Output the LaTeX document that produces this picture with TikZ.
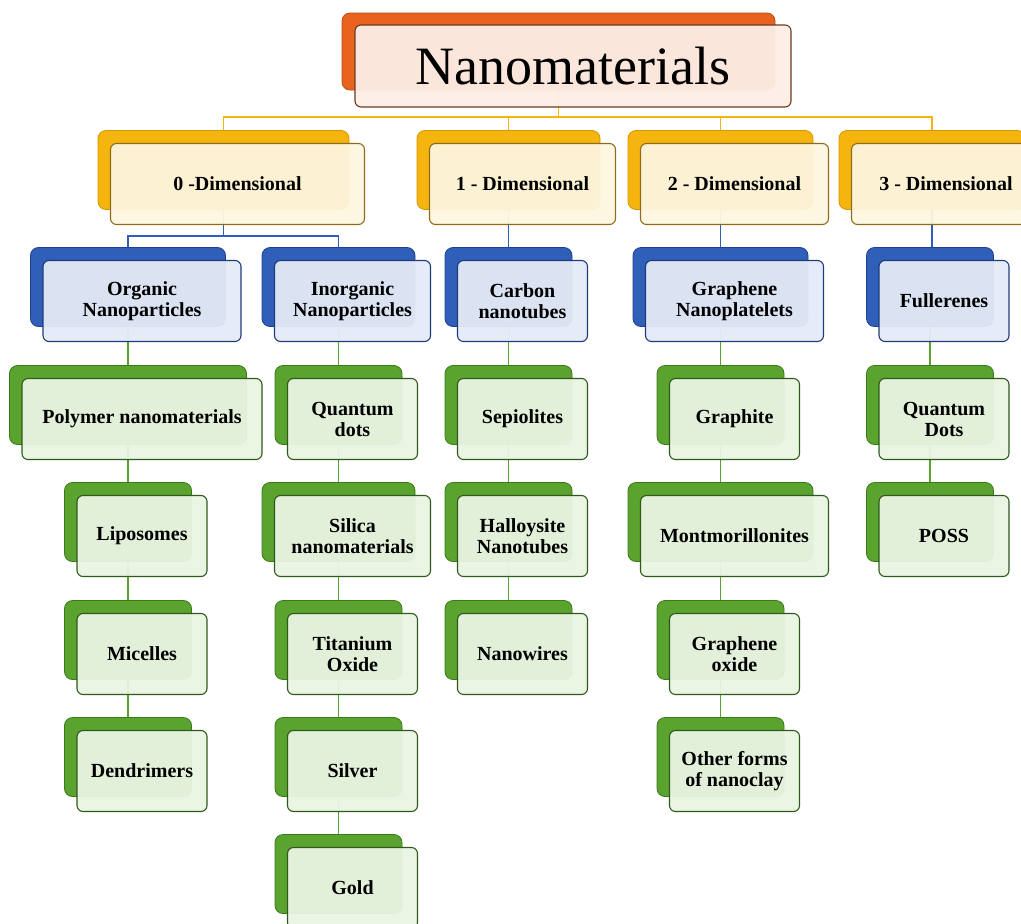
\documentclass[tikz,border=0pt]{standalone}
\usepackage{fontspec}
\setmainfont{Liberation Serif}
\usetikzlibrary{calc}

\pgfdeclarelayer{bg}
\pgfsetlayers{bg,main}

% colours of the four levels
\definecolor{orangeA}{HTML}{E8641E}
\definecolor{orangeB}{HTML}{B8500F}
\definecolor{orangeF}{HTML}{FDEEE6}
\definecolor{orangeE}{HTML}{6E3A1E}
\definecolor{goldA}{HTML}{F6B40E}
\definecolor{goldB}{HTML}{D29600}
\definecolor{goldF}{HTML}{FDF6DE}
\definecolor{goldE}{HTML}{8E6C1C}
\definecolor{blueA}{HTML}{2F5FB8}
\definecolor{blueB}{HTML}{1E418A}
\definecolor{blueF}{HTML}{E5EBF7}
\definecolor{blueE}{HTML}{1F3B78}
\definecolor{greenA}{HTML}{5BA32F}
\definecolor{greenB}{HTML}{3B7A1C}
\definecolor{greenF}{HTML}{EAF4E3}
\definecolor{greenE}{HTML}{2E5A1C}

\newcommand{\lab}{\fontsize{20}{21}\selectfont\bfseries}

\tikzset{
  backbox/.style={rounded corners=8pt, minimum height=79pt, inner sep=0pt, line width=0.8pt},
  frontbox/.style={rounded corners=6pt, minimum height=81pt, inner sep=0pt, line width=1.1pt,
    fill opacity=0.95, text opacity=1, align=center, font=\lab},
  orangeback/.style={backbox, fill=orangeA, draw=orangeB},
  orangefront/.style={frontbox, fill=orangeF, draw=orangeE},
  goldback/.style={backbox, fill=goldA, draw=goldB},
  goldfront/.style={frontbox, fill=goldF, draw=goldE},
  blueback/.style={backbox, fill=blueA, draw=blueB},
  bluefront/.style={frontbox, fill=blueF, draw=blueE},
  greenback/.style={backbox, fill=greenA, draw=greenB},
  greenfront/.style={frontbox, fill=greenF, draw=greenE},
  goldline/.style={draw=goldA, line width=1.4pt},
  blueline/.style={draw=blueA, line width=1.4pt},
  greenline/.style={draw=greenA, line width=1.4pt}
}

% back shape and front shape of one entry
\newcommand{\twobox}[6]{%
  \node[#5back, minimum width=#4pt] (#1-b) at (#2,#3) {};
  \node[#5front, minimum width=#4pt+3pt] (#1) at (#2+14,#3+14) {#6};
}

\begin{document}
\begin{tikzpicture}[x=1pt,y=1pt,yscale=-1]
  \useasboundingbox (0,0) rectangle (1021,924);

  %Title
  \node[orangeback, minimum width=433pt, minimum height=77pt] (nano-b) at (558.5,51.5) {};
  \node[orangefront, minimum width=436pt, minimum height=82pt, font=\fontsize{54}{60}\selectfont] (nano) at (573,66) {Nanomaterials};

  %Dimensions
  \twobox{dimz}{223.5}{170}{251}{gold}{0 -Dimensional}
  \twobox{dimo}{508.5}{170}{183}{gold}{1 - Dimensional}
  \twobox{dimt}{720.5}{170}{185}{gold}{2 - Dimensional}
  \twobox{dimth}{932}{170}{186}{gold}{3 - Dimensional}

  %Second level
  \twobox{org}{128}{287}{195}{blue}{Organic\\Nanoparticles}
  \twobox{inorg}{338.5}{287}{153}{blue}{Inorganic\\Nanoparticles}
  \twobox{carb}{508.5}{287}{127}{blue}{Carbon\\nanotubes}
  \twobox{graph}{720.5}{287}{175}{blue}{Graphene\\Nanoplatelets}
  \twobox{full}{930}{287}{127}{blue}{Fullerenes}

  %Organic column
  \twobox{poly}{128}{405}{237}{green}{Polymer nanomaterials}
  \twobox{lipo}{128}{522}{127}{green}{Liposomes}
  \twobox{mice}{128}{640}{127}{green}{Micelles}
  \twobox{dend}{128}{757}{127}{green}{Dendrimers}

  %Inorganic column
  \twobox{qdot}{338.5}{405}{127}{green}{Quantum\\dots}
  \twobox{silica}{338.5}{522}{153}{green}{Silica\\nanomaterials}
  \twobox{titan}{338.5}{640}{127}{green}{Titanium\\Oxide}
  \twobox{silver}{338.5}{757}{127}{green}{Silver}
  \twobox{gold}{338.5}{874}{127}{green}{Gold}

  %Carbon column
  \twobox{sepio}{508.5}{405}{127}{green}{Sepiolites}
  \twobox{hallo}{508.5}{522}{127}{green}{Halloysite\\Nanotubes}
  \twobox{nwire}{508.5}{640}{127}{green}{Nanowires}

  %Graphene column
  \twobox{graphite}{720.5}{405}{127}{green}{Graphite}
  \twobox{montm}{720.5}{522}{185}{green}{Montmorillonites}
  \twobox{goxide}{720.5}{640}{127}{green}{Graphene\\oxide}
  \twobox{oforms}{720.5}{757}{127}{green}{Other forms\\of nanoclay}

  %Fullerene column
  \twobox{qdotb}{930}{405}{127}{green}{Quantum\\Dots}
  \twobox{poss}{930}{522}{127}{green}{POSS}

  %Connectors
  \begin{pgfonlayer}{bg}
    \coordinate (busa) at (nano-b.south |- 0,117);
    \draw[goldline] (nano-b.south) -- (busa);
    \foreach \n in {dimz,dimo,dimt,dimth}
      \draw[goldline] (busa) -| (\n-b.north);
    \coordinate (busb) at (dimz-b.south |- 0,236);
    \draw[blueline] (dimz-b.south) -- (busb);
    \draw[blueline] (busb) -| (org-b.north);
    \draw[blueline] (busb) -| (inorg-b.north);
    \foreach \a/\c in {dimo/carb,dimt/graph,dimth/full}
      \draw[blueline] (\a-b.south) -- (\a-b.south |- \c-b.north);
    \foreach \a/\c in {org/poly,poly/lipo,lipo/mice,mice/dend,
        inorg/qdot,qdot/silica,silica/titan,titan/silver,silver/gold,
        carb/sepio,sepio/hallo,hallo/nwire,
        graph/graphite,graphite/montm,montm/goxide,goxide/oforms,
        full/qdotb,qdotb/poss}
      \draw[greenline] (\a-b.south) -- (\c-b.north);
  \end{pgfonlayer}
\end{tikzpicture}
\end{document}
